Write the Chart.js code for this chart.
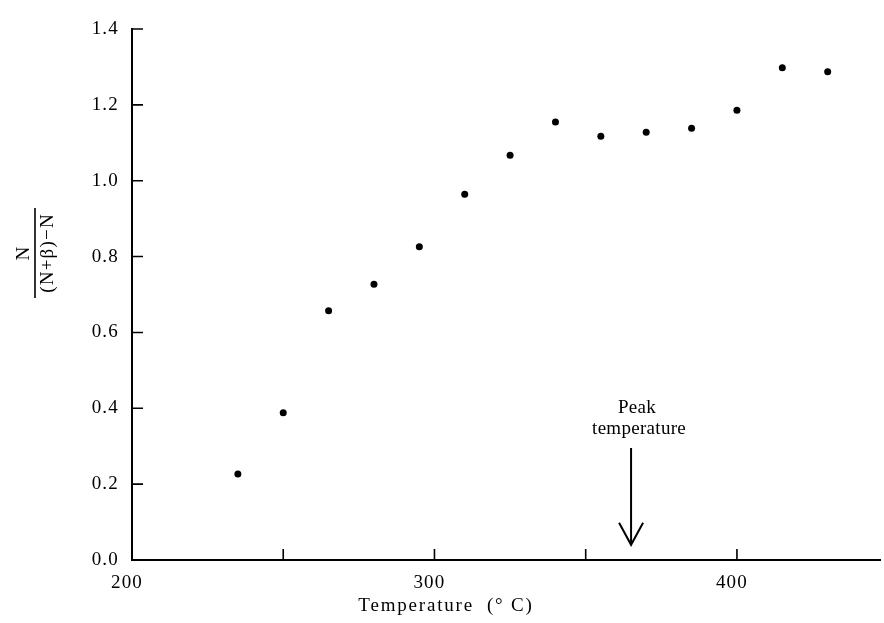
<!DOCTYPE html>
<html>
<head>
<meta charset="utf-8">
<script src="https://cdn.jsdelivr.net/npm/chart.js@4.4.0/dist/chart.umd.min.js"></script>
<style>
  html, body { margin: 0; padding: 0; background: #fff; }
  #wrap { width: 884px; height: 623px; }
</style>
</head>
<body>
<div id="wrap"><canvas id="chart" width="884" height="623"></canvas></div>
<script>
// values
const temperatures = [235, 250, 265, 280, 295, 310, 325, 340, 355, 370, 385, 400, 415, 430];
const ratios = [0.227, 0.388, 0.657, 0.727, 0.826, 0.964, 1.067, 1.155, 1.117, 1.128, 1.138, 1.186, 1.298, 1.287];
const xTickValues = [200, 250, 300, 350, 400];
const xTickLabels = ['200', '', '300', '', '400'];
const yTickValues = [0, 0.2, 0.4, 0.6, 0.8, 1.0, 1.2, 1.4];
const peakTemperature = 365;
const peakArrowFrom = 0.295;
const peakArrowTo = 0.04;
const peakLabel = ['Peak', 'temperature'];
const xTitle = 'Temperature  (° C)';
const yTitleNum = 'N';
const yTitleDen = '(N+β)−N';

const FONT = '"Liberation Serif", "Times New Roman", serif';

// inward ticks, arrow, titles
const extras = {
    id: 'extras',
    beforeDraw(chart) {
        chart.ctx.letterSpacing = '1.2px';
    },
    afterDraw(chart) {
        const ctx = chart.ctx;
        const xs = chart.scales.x;
        const ys = chart.scales.y;
        const area = chart.chartArea;

        ctx.save();
        ctx.strokeStyle = '#000';
        ctx.lineWidth = 1.6;
        ctx.beginPath();
        xTickValues.forEach(v => {
            const px = xs.getPixelForValue(v);
            ctx.moveTo(px, area.bottom);
            ctx.lineTo(px, area.bottom - 11);
        });
        yTickValues.forEach(v => {
            const py = ys.getPixelForValue(v);
            ctx.moveTo(area.left, py);
            ctx.lineTo(area.left + 11, py);
        });
        ctx.stroke();

        // peak arrow
        const ax = xs.getPixelForValue(peakTemperature);
        const aTop = ys.getPixelForValue(peakArrowFrom);
        const aTip = ys.getPixelForValue(peakArrowTo);
        ctx.lineWidth = 2;
        ctx.beginPath();
        ctx.moveTo(ax, aTop);
        ctx.lineTo(ax, aTip);
        ctx.moveTo(ax - 12, aTip - 22);
        ctx.lineTo(ax, aTip);
        ctx.lineTo(ax + 12, aTip - 22);
        ctx.stroke();

        ctx.fillStyle = '#000';
        ctx.letterSpacing = '0.3px';
        ctx.font = '19px ' + FONT;
        ctx.textAlign = 'center';
        ctx.textBaseline = 'middle';
        ctx.fillText(peakLabel[0], ax + 6, aTop - 40);
        ctx.fillText(peakLabel[1], ax + 8, aTop - 19);

        // x title
        ctx.letterSpacing = '1.8px';
        ctx.textBaseline = 'alphabetic';
        ctx.fillText(xTitle, 446, 611);

        // y title as a rotated fraction
        ctx.translate(35, 253);
        ctx.rotate(-Math.PI / 2);
        ctx.letterSpacing = '1.2px';
        ctx.textBaseline = 'middle';
        ctx.fillText(yTitleNum, 0, -11);
        ctx.fillText(yTitleDen, 0, 13);
        ctx.lineWidth = 1.6;
        ctx.beginPath();
        ctx.moveTo(-45, 0);
        ctx.lineTo(45, 0);
        ctx.stroke();
        ctx.restore();
    }
};

new Chart(document.getElementById('chart'), {
    type: 'scatter',
    data: {
        datasets: [{
            data: temperatures.map((t, i) => ({ x: t, y: ratios[i] })),
            backgroundColor: '#000',
            borderColor: '#000',
            borderWidth: 0,
            pointRadius: 3.5
        }]
    },
    options: {
        responsive: false,
        animation: false,
        devicePixelRatio: 1,
        layout: { padding: { top: 29, right: 0, bottom: 0, left: 0 } },
        plugins: { legend: { display: false }, tooltip: { enabled: false } },
        scales: {
            x: {
                type: 'linear',
                min: 200,
                max: 447.3,
                afterBuildTicks: s => { s.ticks = xTickValues.map(v => ({ value: v })); },
                afterFit: s => { s.height = 63; },
                grid: { display: false, drawTicks: false },
                border: { display: true, color: '#000', width: 2 },
                ticks: {
                    callback: (v, i) => xTickLabels[i],
                    color: '#000',
                    font: { family: FONT, size: 19 },
                    padding: 12,
                    maxRotation: 0,
                    autoSkip: false,
                    labelOffset: -5
                }
            },
            y: {
                min: 0,
                max: 1.4,
                afterBuildTicks: s => { s.ticks = yTickValues.map(v => ({ value: v })); },
                afterFit: s => { s.width = 132; },
                grid: { display: false, drawTicks: false },
                border: { display: true, color: '#000', width: 2 },
                ticks: {
                    callback: v => v.toFixed(1),
                    color: '#000',
                    font: { family: FONT, size: 19 },
                    padding: 13
                }
            }
        }
    },
    plugins: [extras]
});
</script>
</body>
</html>
